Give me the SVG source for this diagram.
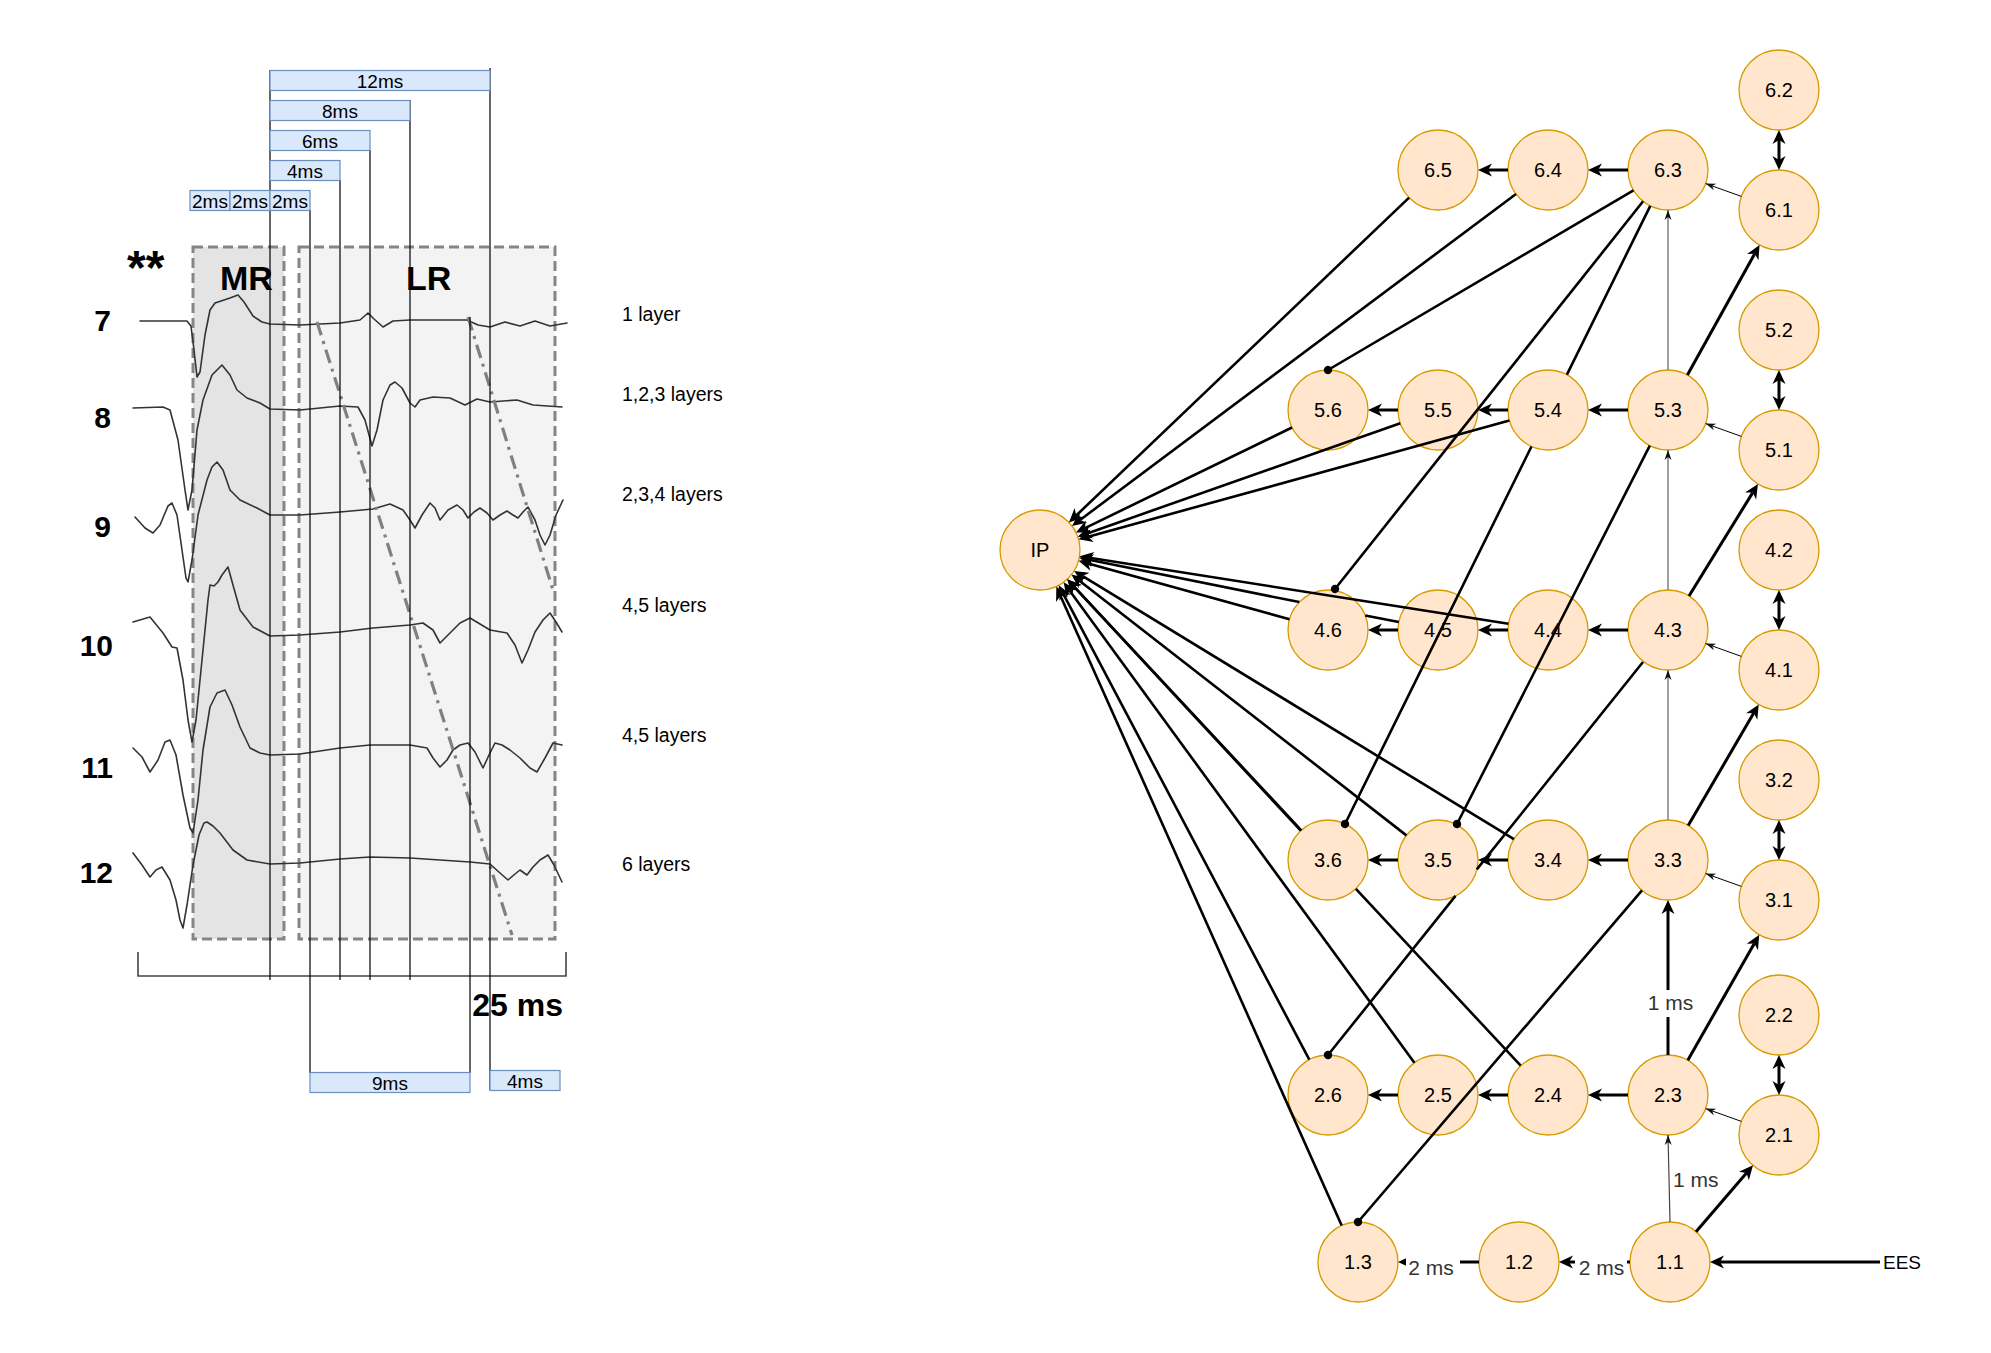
<svg xmlns="http://www.w3.org/2000/svg" width="1991" height="1353" viewBox="0 0 1991 1353">
<style>
text{font-family:'Liberation Sans',Arial,Helvetica,sans-serif}
.node circle{fill:#ffe6cc;stroke:#d79b00;stroke-width:1.3}
.node text{font-size:20px;text-anchor:middle;fill:#000}
.e3{fill:none;stroke:#000;stroke-width:3}
.e2{fill:none;stroke:#000;stroke-width:2.6}
.e1{fill:none;stroke:#000;stroke-width:1}
.eg{fill:none;stroke:#808080;stroke-width:1.5}
.lbl{font-size:21px;fill:#333}
.tr{fill:none;stroke:#333;stroke-width:1.6;stroke-linejoin:round;stroke-linecap:round}
.tl{stroke:#000;stroke-width:1.2}
.bx{fill:#dae8fc;stroke:#6c8ebf;stroke-width:1.2}
.bt{font-size:19px;text-anchor:middle;fill:#000}
.big{font-weight:bold;fill:#000}
.ly{font-size:19.5px;fill:#000}
.dd{fill:none;stroke:#808080;stroke-width:3.2;stroke-dasharray:14 6 3 6}
</style>
<defs>
<marker id="ah" markerUnits="userSpaceOnUse" markerWidth="16" markerHeight="14" refX="4" refY="6.5" orient="auto" overflow="visible"><path d="M14,6.5 L0,0 L4,6.5 L0,13 Z" fill="#000"/></marker>
<marker id="ah2" markerUnits="userSpaceOnUse" markerWidth="16" markerHeight="14" refX="4" refY="6.5" orient="auto-start-reverse" overflow="visible"><path d="M14,6.5 L0,0 L4,6.5 L0,13 Z" fill="#000"/></marker>
<marker id="as" markerUnits="userSpaceOnUse" markerWidth="11" markerHeight="8" refX="10" refY="3.5" orient="auto" overflow="visible"><path d="M10,3.5 L0,0 L3,3.5 L0,7 Z" fill="#111"/></marker>
<marker id="dot" markerUnits="userSpaceOnUse" markerWidth="9" markerHeight="9" refX="4.2" refY="4.2" orient="auto" overflow="visible"><circle cx="4.2" cy="4.2" r="4.2" fill="#000"/></marker>
</defs>

<g id="emg-panel">
<rect x="193" y="247" width="91" height="692" fill="#e4e4e4"/>
<rect x="299" y="247" width="256" height="692" fill="#f3f3f3"/>
<rect x="193" y="247" width="91" height="692" fill="none" stroke="#858585" stroke-width="3" stroke-dasharray="10 5"/>
<rect x="299" y="247" width="256" height="692" fill="none" stroke="#858585" stroke-width="3" stroke-dasharray="10 5"/>
<text class="big" x="127" y="284" font-size="48">**</text>
<text class="big" x="220" y="290" font-size="34">MR</text>
<text class="big" x="406" y="290" font-size="34">LR</text>
<g class="big" font-size="30" text-anchor="end">
<text x="111" y="331">7</text>
<text x="111" y="428">8</text>
<text x="111" y="537">9</text>
<text x="113" y="656">10</text>
<text x="113" y="778">11</text>
<text x="113" y="883">12</text>
</g>
<polyline class="tr" points="140,321 187,321 191,326 194,350 197,377 200,372 205,335 210,310 215,303 230,298 238,295 244,302 253,316 262,322 270,324 300,325 340,323 360,320 368,313 374,319 383,327 393,321 410,320 467,320 478,325 490,327 505,322 520,326 535,321 550,326 567,323"/>
<polyline class="tr" points="133,408 163,407 170,410 178,440 185,490 188,510 192,490 197,430 203,400 212,375 222,365 230,375 237,390 247,398 260,403 270,409 300,410 340,406 358,407 365,420 372,446 377,430 383,400 390,385 395,382 402,388 410,403 415,407 420,400 433,397 450,398 465,405 477,399 490,402 517,400 533,405 562,407"/>
<polyline class="tr" points="135,517 145,528 153,533 160,525 168,506 172,503 177,515 182,550 186,578 188,582 192,560 198,515 207,480 212,467 217,462 223,470 230,490 240,500 257,508 270,515 300,515 340,512 373,509 390,504 403,510 410,520 415,528 422,515 430,503 435,508 440,520 448,510 457,505 463,510 468,518 474,512 480,508 487,513 493,520 500,515 507,511 513,515 518,518 523,512 528,507 535,520 540,535 545,545 550,535 556,515 563,500"/>
<polyline class="tr" points="133,622 150,617 163,633 172,647 177,648 183,680 188,720 192,742 196,720 200,680 203,650 208,600 210,585 214,586 218,582 222,575 228,567 233,585 240,610 253,627 270,636 300,635 340,632 373,628 410,625 423,623 433,630 440,643 448,635 460,623 470,618 480,624 490,630 507,633 515,645 522,663 528,650 535,632 543,620 550,613 556,622 562,632"/>
<polyline class="tr" points="133,748 142,757 150,772 158,760 165,742 170,740 176,755 183,795 190,828 193,833 198,800 203,750 210,707 217,693 225,690 232,705 240,727 250,748 260,753 270,755 300,754 340,748 370,745 410,745 427,748 433,758 440,767 447,760 453,750 460,745 468,743 475,752 483,768 489,755 495,743 502,745 510,750 520,758 530,768 537,772 545,758 553,743 562,745"/>
<polyline class="tr" points="133,853 142,865 150,877 156,870 162,867 170,880 176,900 180,920 183,928 187,905 193,865 199,835 204,823 207,822 213,826 220,833 233,850 247,860 270,864 300,863 340,859 370,857 410,858 470,862 490,864 500,873 508,880 515,874 520,870 527,875 533,867 540,860 548,855 554,865 562,882"/>
<path class="dd" d="M317,322 L512,935"/>
<path class="dd" d="M468,317 L553,590"/>
<path d="M138,952 L138,976 L566,976 L566,952" fill="none" stroke="#444" stroke-width="1.6"/>
<text class="big" x="563" y="1016" font-size="32" text-anchor="end">25 ms</text>
<line class="tl" x1="270" y1="70" x2="270" y2="980"/>
<line class="tl" x1="310" y1="210" x2="310" y2="1073"/>
<line class="tl" x1="340" y1="180" x2="340" y2="980"/>
<line class="tl" x1="370" y1="150" x2="370" y2="980"/>
<line class="tl" x1="410" y1="100" x2="410" y2="980"/>
<line class="tl" x1="470" y1="317" x2="470" y2="1073"/>
<line class="tl" x1="490" y1="68" x2="490" y2="1090"/>
<rect class="bx" x="270" y="70.5" width="220" height="20"/><text class="bt" x="380" y="87.5">12ms</text>
<rect class="bx" x="270" y="100.5" width="140" height="20"/><text class="bt" x="340" y="117.5">8ms</text>
<rect class="bx" x="270" y="130.5" width="100" height="20"/><text class="bt" x="320" y="147.5">6ms</text>
<rect class="bx" x="270" y="160.5" width="70" height="20"/><text class="bt" x="305" y="177.5">4ms</text>
<rect class="bx" x="190" y="190.5" width="40" height="20"/><text class="bt" x="210" y="207.5">2ms</text>
<rect class="bx" x="230" y="190.5" width="40" height="20"/><text class="bt" x="250" y="207.5">2ms</text>
<rect class="bx" x="270" y="190.5" width="40" height="20"/><text class="bt" x="290" y="207.5">2ms</text>
<rect class="bx" x="310" y="1072.5" width="160" height="20"/><text class="bt" x="390" y="1089.5">9ms</text>
<rect class="bx" x="490" y="1070.5" width="70" height="20"/><text class="bt" x="525" y="1087.5">4ms</text>
<g class="ly">
<text x="622" y="321">1 layer</text>
<text x="622" y="401">1,2,3 layers</text>
<text x="622" y="501">2,3,4 layers</text>
<text x="622" y="612">4,5 layers</text>
<text x="622" y="742">4,5 layers</text>
<text x="622" y="871">6 layers</text>
</g>
</g>

<g id="nodes">
<g class="node" id="n-IP"><circle cx="1040" cy="550" r="40"/><text x="1040" y="557">IP</text></g>
<g class="node" id="n-6.5"><circle cx="1438" cy="170" r="40"/><text x="1438" y="177">6.5</text></g>
<g class="node" id="n-6.4"><circle cx="1548" cy="170" r="40"/><text x="1548" y="177">6.4</text></g>
<g class="node" id="n-6.3"><circle cx="1668" cy="170" r="40"/><text x="1668" y="177">6.3</text></g>
<g class="node" id="n-6.2"><circle cx="1779" cy="90" r="40"/><text x="1779" y="97">6.2</text></g>
<g class="node" id="n-6.1"><circle cx="1779" cy="210" r="40"/><text x="1779" y="217">6.1</text></g>
<g class="node" id="n-5.6"><circle cx="1328" cy="410" r="40"/><text x="1328" y="417">5.6</text></g>
<g class="node" id="n-5.5"><circle cx="1438" cy="410" r="40"/><text x="1438" y="417">5.5</text></g>
<g class="node" id="n-5.4"><circle cx="1548" cy="410" r="40"/><text x="1548" y="417">5.4</text></g>
<g class="node" id="n-5.3"><circle cx="1668" cy="410" r="40"/><text x="1668" y="417">5.3</text></g>
<g class="node" id="n-5.2"><circle cx="1779" cy="330" r="40"/><text x="1779" y="337">5.2</text></g>
<g class="node" id="n-5.1"><circle cx="1779" cy="450" r="40"/><text x="1779" y="457">5.1</text></g>
<g class="node" id="n-4.6"><circle cx="1328" cy="630" r="40"/><text x="1328" y="637">4.6</text></g>
<g class="node" id="n-4.5"><circle cx="1438" cy="630" r="40"/><text x="1438" y="637">4.5</text></g>
<g class="node" id="n-4.4"><circle cx="1548" cy="630" r="40"/><text x="1548" y="637">4.4</text></g>
<g class="node" id="n-4.3"><circle cx="1668" cy="630" r="40"/><text x="1668" y="637">4.3</text></g>
<g class="node" id="n-4.2"><circle cx="1779" cy="550" r="40"/><text x="1779" y="557">4.2</text></g>
<g class="node" id="n-4.1"><circle cx="1779" cy="670" r="40"/><text x="1779" y="677">4.1</text></g>
<g class="node" id="n-3.6"><circle cx="1328" cy="860" r="40"/><text x="1328" y="867">3.6</text></g>
<g class="node" id="n-3.5"><circle cx="1438" cy="860" r="40"/><text x="1438" y="867">3.5</text></g>
<g class="node" id="n-3.4"><circle cx="1548" cy="860" r="40"/><text x="1548" y="867">3.4</text></g>
<g class="node" id="n-3.3"><circle cx="1668" cy="860" r="40"/><text x="1668" y="867">3.3</text></g>
<g class="node" id="n-3.2"><circle cx="1779" cy="780" r="40"/><text x="1779" y="787">3.2</text></g>
<g class="node" id="n-3.1"><circle cx="1779" cy="900" r="40"/><text x="1779" y="907">3.1</text></g>
<g class="node" id="n-2.6"><circle cx="1328" cy="1095" r="40"/><text x="1328" y="1102">2.6</text></g>
<g class="node" id="n-2.5"><circle cx="1438" cy="1095" r="40"/><text x="1438" y="1102">2.5</text></g>
<g class="node" id="n-2.4"><circle cx="1548" cy="1095" r="40"/><text x="1548" y="1102">2.4</text></g>
<g class="node" id="n-2.3"><circle cx="1668" cy="1095" r="40"/><text x="1668" y="1102">2.3</text></g>
<g class="node" id="n-2.2"><circle cx="1779" cy="1015" r="40"/><text x="1779" y="1022">2.2</text></g>
<g class="node" id="n-2.1"><circle cx="1779" cy="1135" r="40"/><text x="1779" y="1142">2.1</text></g>
<g class="node" id="n-1.3"><circle cx="1358" cy="1262" r="40"/><text x="1358" y="1269">1.3</text></g>
<g class="node" id="n-1.2"><circle cx="1519" cy="1262" r="40"/><text x="1519" y="1269">1.2</text></g>
<g class="node" id="n-1.1"><circle cx="1670" cy="1262" r="40"/><text x="1670" y="1269">1.1</text></g>
<g id="n-EES"><text x="1883" y="1269" font-size="19">EES</text></g>
</g>

<g id="connectors">
<g class="e2" marker-end="url(#ah)">
<path d="M1409.1,197.6 L1076.2,515.5"/>
<path d="M1516,194 L1080,520"/>
<path d="M1292,427.5 L1085,528.1"/>
<path d="M1400.3,423.3 L1087.2,533.4"/>
<path d="M1509.4,420.6 L1088.2,536.7"/>
<path d="M1289.5,619.3 L1088.2,563.4"/>
<path d="M1398.8,622.1 L1365.2,615.4 M1299.3,602.1 L1089,559.8"/>
<path d="M1508.5,623.8 L1089.4,557.8"/>
<path d="M1513.9,839.2 L1082.7,576.1"/>
<path d="M1406.4,835.4 L1079.4,580.7"/>
<path d="M1300.8,830.7 L1074,586.6"/>
<path d="M1520.7,1065.7 L1355.9,888.8 M1301.3,830.3 L1074.1,586.6"/>
<path d="M1414.4,1062.7 L1069.5,590.4"/>
<path d="M1309.3,1059.6 L1063.4,594.2"/>
<path d="M1341.7,1225.5 L1060.4,595.7"/>
</g>
<g class="e2" marker-end="url(#dot)">
<path d="M1633.5,190.3 L1328,370"/>
<path d="M1643.1,201.3 L1335,589"/>
<path d="M1650.3,205.9 L1566.9,374.7 M1531.5,446.5 L1345,824"/>
<path d="M1649.8,445.6 L1457,824"/>
<path d="M1643,662 L1476.8,869.4 M1455.5,895.9 L1328,1055"/>
<path d="M1642,890.4 L1358,1222"/>
</g>
<g class="e3" marker-end="url(#ah)">
<path d="M1628,170 L1598,170"/><path d="M1508,170 L1488,170"/>
<path d="M1628,410 L1598,410"/><path d="M1508,410 L1488,410"/><path d="M1398,410 L1378,410"/>
<path d="M1628,630 L1598,630"/><path d="M1508,630 L1488,630"/><path d="M1398,630 L1378,630"/>
<path d="M1628,860 L1598,860"/><path d="M1508,860 L1488,860"/><path d="M1398,860 L1378,860"/>
<path d="M1628,1095 L1598,1095"/><path d="M1508,1095 L1488,1095"/><path d="M1398,1095 L1378,1095"/>
<path d="M1630,1262 L1569,1262"/><path d="M1479,1262 L1408,1262"/>
<path d="M1880,1262 L1720,1262"/>
<path d="M1687.4,375 L1754.7,253.7"/>
<path d="M1689,596 L1752.7,492.6"/>
<path d="M1688.2,825.5 L1753.7,713.1"/>
<path d="M1687.8,1060.2 L1754.3,943.5"/>
<path d="M1696,1231.7 L1746.5,1172.9"/>
<path d="M1668,1055 L1668,910"/>
</g>
<g class="e3" marker-start="url(#ah2)" marker-end="url(#ah2)">
<path d="M1779,140 L1779,160"/>
<path d="M1779,380 L1779,400"/>
<path d="M1779,600 L1779,620"/>
<path d="M1779,830 L1779,850"/>
<path d="M1779,1065 L1779,1085"/>
</g>
<g class="e1" marker-end="url(#as)">
<path d="M1741.4,196.4 L1705.6,183.6"/>
<path d="M1741.4,436.4 L1705.6,423.6"/>
<path d="M1741.4,656.4 L1705.6,643.6"/>
<path d="M1741.4,886.4 L1705.6,873.6"/>
<path d="M1741.4,1121.4 L1705.6,1108.6"/>
</g>
<g class="eg" marker-end="url(#as)">
<path d="M1668,370 L1668,210"/>
<path d="M1668,590 L1668,450"/>
<path d="M1668,820 L1668,670"/>
</g>
<path d="M1670,1222 L1668,1135" fill="none" stroke="#444" stroke-width="1.2" marker-end="url(#as)"/>
<g id="edge-labels">
<rect x="1646" y="990" width="49" height="27" fill="#fff"/>
<text class="lbl" x="1670.5" y="1010" text-anchor="middle">1 ms</text>
<text class="lbl" x="1673" y="1187">1 ms</text>
<rect x="1575" y="1253" width="52" height="26" fill="#fff"/>
<text class="lbl" x="1601.5" y="1275" text-anchor="middle">2 ms</text>
<rect x="1406" y="1253" width="54" height="26" fill="#fff"/>
<text class="lbl" x="1431" y="1275" text-anchor="middle">2 ms</text>
</g>
</g>
</svg>
